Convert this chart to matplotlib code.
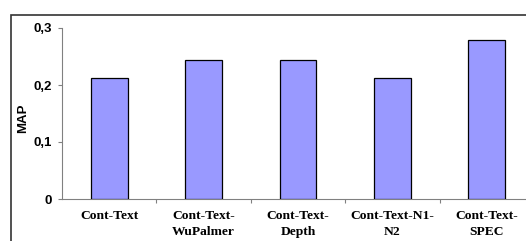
import matplotlib
matplotlib.use("Agg")
import matplotlib.pyplot as plt
from matplotlib.patches import Rectangle

categories = ["Cont-Text", "Cont-Text-\nWuPalmer", "Cont-Text-\nDepth", "Cont-Text-N1-\nN2", "Cont-Text-\nSPEC"]
map_values = [0.213, 0.244, 0.244, 0.213, 0.279]
y_ticks = [0, 0.1, 0.2, 0.3]
y_tick_labels = ["0", "0,1", "0,2", "0,3"]

W, H = 526, 241
fig = plt.figure(figsize=(W / 100, H / 100), dpi=100)

# outer chart frame (cut off at right and bottom)
fig.patches.append(Rectangle((10.5 / W, -0.2), 1.2, (H - 15) / H + 0.2,
                             transform=fig.transFigure, fill=False,
                             edgecolor="#333333", linewidth=1.2))

ax = fig.add_axes([62 / W, 42 / H, (534 - 62) / W, (199 - 28) / H])
x = list(range(len(categories)))
ax.bar(x, map_values, width=0.39, color="#9999FF", edgecolor="black", linewidth=0.9, zorder=3)

ax.set_xlim(-0.5, len(categories) - 0.5)
ax.set_ylim(0, 0.3)
ax.set_yticks(y_ticks)
ax.set_yticklabels(y_tick_labels, fontfamily="Liberation Sans", fontweight="bold", fontsize=9.5)

ax.set_xticks([i + 0.5 for i in x[:-1]], minor=False)
ax.set_xticklabels([])
ax.set_xticks(x, minor=True)
ax.set_xticklabels(categories, minor=True, fontfamily="Liberation Serif",
                   fontweight="bold", fontsize=9.7, linespacing=1.42)
ax.tick_params(axis="x", which="minor", length=0, pad=8)
ax.tick_params(axis="x", which="major", length=3, color="#808080", direction="out")
ax.tick_params(axis="y", length=3, color="#808080", pad=4)

for s in ["top", "right"]:
    ax.spines[s].set_visible(False)
for s in ["left", "bottom"]:
    ax.spines[s].set_color("#808080")
    ax.spines[s].set_linewidth(0.8)

ax.set_ylabel("MAP", fontfamily="Liberation Sans", fontweight="bold", fontsize=9.5)
ax.yaxis.set_label_coords(-33 / 472, 0.47)

fig.savefig("out.png", dpi=100)
